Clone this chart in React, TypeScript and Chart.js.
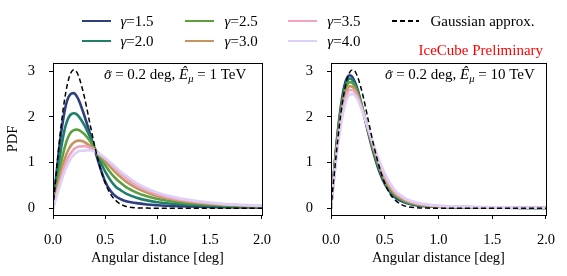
import React, { useEffect, useRef } from "react";
import { Chart, registerables } from "chart.js";
Chart.register(...registerables);

// ---------------- data ----------------
const xGrid = [0, 0.025, 0.05, 0.075, 0.1, 0.125, 0.15, 0.175, 0.2, 0.225, 0.25, 0.3, 0.35, 0.4, 0.45, 0.5, 0.55, 0.6, 0.65, 0.7, 0.8, 0.9, 1.0, 1.2, 1.4, 1.6, 1.8, 2.0];

const gammaValues = ["1.5", "2.0", "2.5", "3.0", "3.5", "4.0"];
const gammaColors = ["#2e3f80", "#1f7f6b", "#5b9f3e", "#c3955f", "#f2a3bf", "#ddd0f8"];
const gaussLabel = "Gaussian approx.";

// Left panel: sigma = 0.2 deg, E = 1 TeV
const left15 = [0, 0.58, 1.12, 1.60, 1.98, 2.27, 2.44, 2.51, 2.52, 2.46, 2.35, 2.03, 1.66, 1.28, 0.90, 0.58, 0.38, 0.26, 0.195, 0.15, 0.11, 0.08, 0.065, 0.045, 0.03, 0.022, 0.016, 0.012];
const left20 = [0, 0.45, 0.88, 1.27, 1.60, 1.84, 1.99, 2.06, 2.08, 2.06, 2.00, 1.82, 1.58, 1.31, 1.04, 0.80, 0.61, 0.47, 0.39, 0.32, 0.23, 0.17, 0.13, 0.085, 0.06, 0.045, 0.035, 0.027];
const left25 = [0, 0.33, 0.65, 0.96, 1.22, 1.43, 1.58, 1.67, 1.71, 1.72, 1.71, 1.62, 1.48, 1.30, 1.12, 0.94, 0.78, 0.65, 0.55, 0.46, 0.34, 0.26, 0.20, 0.13, 0.09, 0.065, 0.05, 0.04];
const left30 = [0, 0.26, 0.52, 0.76, 0.98, 1.16, 1.29, 1.38, 1.44, 1.47, 1.48, 1.45, 1.37, 1.28, 1.15, 1.03, 0.90, 0.78, 0.675, 0.58, 0.44, 0.34, 0.26, 0.17, 0.115, 0.08, 0.06, 0.045];
const left35 = [0, 0.22, 0.44, 0.65, 0.84, 1.00, 1.13, 1.22, 1.29, 1.33, 1.35, 1.36, 1.33, 1.27, 1.18, 1.08, 0.97, 0.86, 0.76, 0.66, 0.50, 0.39, 0.30, 0.19, 0.13, 0.09, 0.065, 0.05];
const left40 = [0, 0.19, 0.38, 0.56, 0.73, 0.88, 1.00, 1.10, 1.17, 1.22, 1.25, 1.26, 1.27, 1.24, 1.18, 1.10, 1.00, 0.90, 0.80, 0.71, 0.55, 0.43, 0.34, 0.22, 0.15, 0.10, 0.075, 0.055];

// Right panel: sigma = 0.2 deg, E = 10 TeV
const right15 = [0, 0.72, 1.38, 1.92, 2.36, 2.68, 2.86, 2.91, 2.87, 2.75, 2.58, 2.12, 1.62, 1.17, 0.80, 0.53, 0.35, 0.23, 0.16, 0.11, 0.06, 0.04, 0.03, 0.018, 0.012, 0.008, 0.006, 0.005];
const right20 = [0, 0.70, 1.34, 1.87, 2.29, 2.60, 2.78, 2.84, 2.81, 2.70, 2.54, 2.12, 1.65, 1.21, 0.85, 0.57, 0.38, 0.26, 0.185, 0.13, 0.07, 0.045, 0.032, 0.02, 0.013, 0.009, 0.007, 0.005];
const right25 = [0, 0.67, 1.29, 1.81, 2.22, 2.52, 2.70, 2.76, 2.74, 2.65, 2.50, 2.11, 1.67, 1.25, 0.89, 0.61, 0.41, 0.28, 0.20, 0.14, 0.08, 0.05, 0.035, 0.022, 0.015, 0.01, 0.008, 0.006];
const right30 = [0, 0.63, 1.22, 1.72, 2.12, 2.42, 2.60, 2.67, 2.66, 2.59, 2.46, 2.10, 1.69, 1.29, 0.94, 0.65, 0.45, 0.31, 0.225, 0.16, 0.09, 0.06, 0.04, 0.025, 0.017, 0.012, 0.009, 0.007];
const right35 = [0, 0.60, 1.16, 1.64, 2.03, 2.33, 2.51, 2.59, 2.59, 2.53, 2.42, 2.09, 1.71, 1.33, 0.99, 0.70, 0.49, 0.34, 0.25, 0.18, 0.10, 0.065, 0.045, 0.028, 0.019, 0.013, 0.01, 0.008];
const right40 = [0, 0.56, 1.09, 1.55, 1.93, 2.22, 2.41, 2.49, 2.50, 2.46, 2.37, 2.07, 1.72, 1.37, 1.04, 0.76, 0.54, 0.38, 0.28, 0.20, 0.12, 0.08, 0.055, 0.035, 0.024, 0.017, 0.013, 0.01];

// Gaussian approximation (same in both panels)
const gaussian = [0, 0.62, 1.21, 1.75, 2.21, 2.57, 2.83, 2.98, 3.03, 2.99, 2.86, 2.44, 1.89, 1.35, 0.90, 0.55, 0.31, 0.17, 0.083, 0.038, 0.007, 0.001, 0, 0, 0, 0, 0, 0];

const xTicks = [0, 0.5, 1.0, 1.5, 2.0];
const xTickLabels = ["0.0", "0.5", "1.0", "1.5", "2.0"];
const yTicks = [0, 1, 2, 3];
const yTickLabels = ["0", "1", "2", "3"];
const xTitle = "Angular distance [deg]";
const yTitle = "PDF";
const leftEnergy = "1";
const rightEnergy = "10";

// ---------------- chart ----------------
const FONT = "'Liberation Serif', 'Times New Roman', serif";

const boxPlugin = {
  id: "boxPlugin",
  afterDatasetsDraw(chart: any) {
    const { ctx, chartArea } = chart;
    const l = Math.round(chartArea.left), t = Math.round(chartArea.top);
    const r = Math.round(chartArea.right), b = Math.round(chartArea.bottom);
    ctx.save();
    ctx.strokeStyle = "#000";
    ctx.lineWidth = 1;
    ctx.strokeRect(l + 0.5, t + 0.5, r - l, b - t);
    ctx.restore();
  },
};

function makeChart(canvas: HTMLCanvasElement, series: number[][], yWidth: number, rightPad: number, showYTitle: boolean) {
  const datasets: any[] = series.map((vals, i) => ({
    label: "γ=" + gammaValues[i],
    data: xGrid.map((x, j) => ({ x, y: vals[j] })),
    borderColor: gammaColors[i],
    borderWidth: 2.6,
    pointRadius: 0,
    fill: false,
    cubicInterpolationMode: "monotone",
    order: 20 - i,
  }));
  datasets.push({
    label: gaussLabel,
    data: xGrid.map((x, j) => ({ x, y: gaussian[j] })),
    borderColor: "#000",
    borderWidth: 1.5,
    borderDash: [5, 3],
    pointRadius: 0,
    fill: false,
    cubicInterpolationMode: "monotone",
    order: 0,
  });
  const font = { family: FONT, size: 14.5 };
  return new Chart(canvas, {
    type: "line",
    data: { datasets },
    plugins: [boxPlugin],
    options: {
      responsive: false,
      animation: false,
      devicePixelRatio: 1,
      layout: { padding: { top: 63, right: rightPad, bottom: 0, left: 0 } },
      plugins: { legend: { display: false }, tooltip: { enabled: false } },
      scales: {
        x: {
          type: "linear",
          min: 0,
          max: 2,
          afterBuildTicks: (s: any) => { s.ticks = xTicks.map((v) => ({ value: v })); },
          afterFit: (s: any) => { s.height = 61; },
          ticks: {
            callback: (_v: any, i: number) => xTickLabels[i],
            font, color: "#000", padding: 12, maxRotation: 0, autoSkip: false,
          },
          grid: { display: true, drawOnChartArea: false, drawTicks: true, tickLength: 4, color: "#000", tickColor: "#000", tickWidth: 1 },
          border: { display: false },
          title: { display: true, text: xTitle, font, color: "#000", padding: { top: 0, bottom: 9 } },
        },
        y: {
          type: "linear",
          min: -0.15,
          max: 3.18,
          afterBuildTicks: (s: any) => { s.ticks = yTicks.map((v) => ({ value: v })); },
          afterFit: (s: any) => { s.width = yWidth; },
          ticks: {
            callback: (_v: any, i: number) => yTickLabels[i],
            font, color: "#000", padding: 14, autoSkip: false,
          },
          grid: { display: true, drawOnChartArea: false, drawTicks: true, tickLength: 4, color: "#000", tickColor: "#000", tickWidth: 1 },
          border: { display: false },
          title: { display: showYTitle, text: yTitle, font, color: "#000", padding: { top: 4.5, bottom: 0 } },
        },
      },
    } as any,
  });
}

const legendCols = [
  { handle: 81.7, text: 120.4 },
  { handle: 184.5, text: 224.6 },
  { handle: 287.5, text: 327.3 },
];
const ROW_Y = [21, 41];

function Hat({ children, shift }: { children: React.ReactNode; shift: number }) {
  return (
    <span style={{ position: "relative", display: "inline-block" }}>
      <i>{children}</i>
      <span style={{ position: "absolute", left: "50%", top: shift, transform: "translateX(-35%)", fontSize: 13 }}>ˆ</span>
    </span>
  );
}

function Annotation({ left, energy }: { left: number; energy: string }) {
  return (
    <div style={{ position: "absolute", left, top: 64, fontFamily: FONT, fontSize: 15, lineHeight: "20px", whiteSpace: "nowrap", color: "#000" }}>
      <Hat shift={1}>σ</Hat> = 0.2 deg, <i>Ê</i>
      <sub style={{ fontSize: 10.5, verticalAlign: -3, lineHeight: 0 }}><i>μ</i></sub> = {energy} TeV
    </div>
  );
}

export default function App() {
  const leftRef = useRef<HTMLCanvasElement>(null);
  const rightRef = useRef<HTMLCanvasElement>(null);

  useEffect(() => {
    const c1 = makeChart(leftRef.current!, [left15, left20, left25, left30, left35, left40], 53, 13, true);
    const c2 = makeChart(rightRef.current!, [right15, right20, right25, right30, right35, right40], 48, 19, false);
    return () => { c1.destroy(); c2.destroy(); };
  }, []);

  const textStyle: React.CSSProperties = { position: "absolute", fontFamily: FONT, fontSize: 15, lineHeight: "20px", whiteSpace: "nowrap", color: "#000" };

  return (
    <div style={{ position: "absolute", left: 0, top: 0, width: 567, height: 276, background: "#fff", overflow: "hidden" }}>
      <canvas ref={leftRef} width={283} height={276} style={{ position: "absolute", left: 0, top: 0, width: 283, height: 276 }} />
      <canvas ref={rightRef} width={284} height={276} style={{ position: "absolute", left: 283, top: 0, width: 284, height: 276 }} />

      {gammaValues.map((g, i) => {
        const col = legendCols[Math.floor(i / 2)];
        const y = ROW_Y[i % 2];
        return (
          <React.Fragment key={g}>
            <div style={{ position: "absolute", left: col.handle, top: y - 1.3, width: 29.5, height: 2.6, background: gammaColors[i] }} />
            <div style={{ ...textStyle, left: col.text, top: y - 10 }}>
              <i>γ</i>=<span>{g}</span>
            </div>
          </React.Fragment>
        );
      })}
      <div style={{ position: "absolute", left: 391.7, top: ROW_Y[0] - 0.75, width: 27.5, height: 1.5, background: "repeating-linear-gradient(to right, #000 0px, #000 5px, transparent 5px, transparent 8px)" }} />
      <div style={{ ...textStyle, left: 430.4, top: ROW_Y[0] - 10 }}>{gaussLabel}</div>

      <div style={{ ...textStyle, left: 418.5, top: 39.5, color: "#ff0000" }}>IceCube Preliminary</div>

      <Annotation left={104} energy={leftEnergy} />
      <Annotation left={385} energy={rightEnergy} />
    </div>
  );
}
